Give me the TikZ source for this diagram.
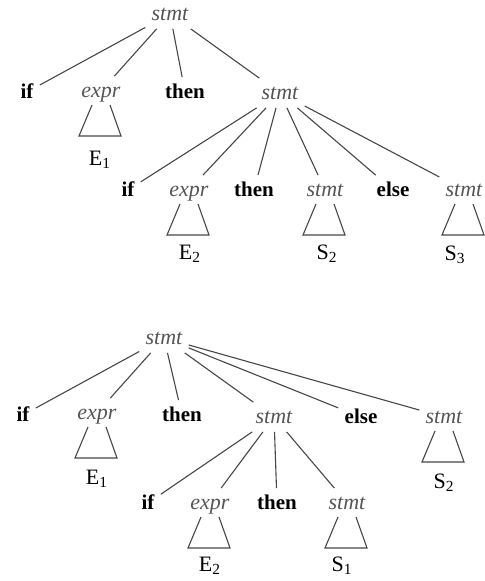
\documentclass[tikz,border=0pt]{standalone}
\usepackage{fontspec}
\setmainfont{Liberation Serif}
\usetikzlibrary{calc}
\definecolor{inkgray}{RGB}{70,70,70}
\definecolor{catgray}{RGB}{85,85,85}
\tikzset{
  cat/.style={inner sep=3pt, text height=1.6ex, text depth=.25ex,
              font=\fontsize{11}{13}\selectfont\itshape, text=catgray},
  word/.style={inner sep=3pt, text height=1.6ex, text depth=.25ex,
               font=\fontsize{10.5}{13}\selectfont\bfseries},
  yield/.style={inner sep=1pt, font=\fontsize{11}{13}\selectfont},
  branch/.style={draw=inkgray, line width=0.55pt}
}
\begin{document}
\begin{tikzpicture}[x=0.5pt, y=-0.5pt]
\useasboundingbox (0,0) rectangle (485,581);
% upper tree
\node[cat]  (aroot)  at (170,14)  {stmt};
\node[word] (aif)    at (27,92)   {if};
\node[cat]  (aexpr)  at (101,91)  {expr};
\node[word] (athen)  at (185,92)  {then};
\node[cat]  (astmt)  at (280,93)  {stmt};
\node[word] (aifb)   at (128,190) {if};
\node[cat]  (aexprb) at (189,190) {expr};
\node[word] (athenb) at (254,190) {then};
\node[cat]  (astmtb) at (325,190) {stmt};
\node[word] (aelse)  at (393,190) {else};
\node[cat]  (astmtc) at (464,190) {stmt};
\node[yield] (aeone) at (100,160) {E\textsubscript{1}};
\node[yield] (aetwo) at (190,254) {E\textsubscript{2}};
\node[yield] (astwo) at (327,254) {S\textsubscript{2}};
\node[yield] (asthr) at (455,255) {S\textsubscript{3}};
\foreach \k in {aif,aexpr,athen,astmt}
  \draw[branch] (aroot) -- (\k);
\foreach \k in {aifb,aexprb,athenb,astmtb,aelse,astmtc}
  \draw[branch] (astmt) -- (\k);
% lower tree
\node[cat]  (broot)  at (164,338) {stmt};
\node[word] (bif)    at (23,415)  {if};
\node[cat]  (bexpr)  at (97,413)  {expr};
\node[word] (bthen)  at (182,415) {then};
\node[cat]  (bstmt)  at (274,417) {stmt};
\node[word] (belse)  at (361,417) {else};
\node[cat]  (bstmtc) at (444,417) {stmt};
\node[word] (bifb)   at (148,503) {if};
\node[cat]  (bexprb) at (210,503) {expr};
\node[word] (bthenb) at (277,503) {then};
\node[cat]  (bstmtb) at (347,503) {stmt};
\node[yield] (beone) at (97,479)  {E\textsubscript{1}};
\node[yield] (bstwo) at (444,483) {S\textsubscript{2}};
\node[yield] (betwo) at (210,566) {E\textsubscript{2}};
\node[yield] (bsone) at (342,566) {S\textsubscript{1}};
\foreach \k in {bif,bexpr,bthen,bstmt,belse,bstmtc}
  \draw[branch] (broot) -- (\k);
\foreach \k in {bifb,bexprb,bthenb,bstmtb}
  \draw[branch] (bstmt) -- (\k);
% open triangles for the subtrees
\foreach \k in {aexpr,aexprb,astmtb,astmtc,bexpr,bstmtc,bexprb,bstmtb}
  \draw[branch] ($(\k)+(-9,14)$) -- ($(\k)+(-22,45)$) -- ($(\k)+(20,45)$) -- ($(\k)+(9,14)$);
\end{tikzpicture}
\end{document}
